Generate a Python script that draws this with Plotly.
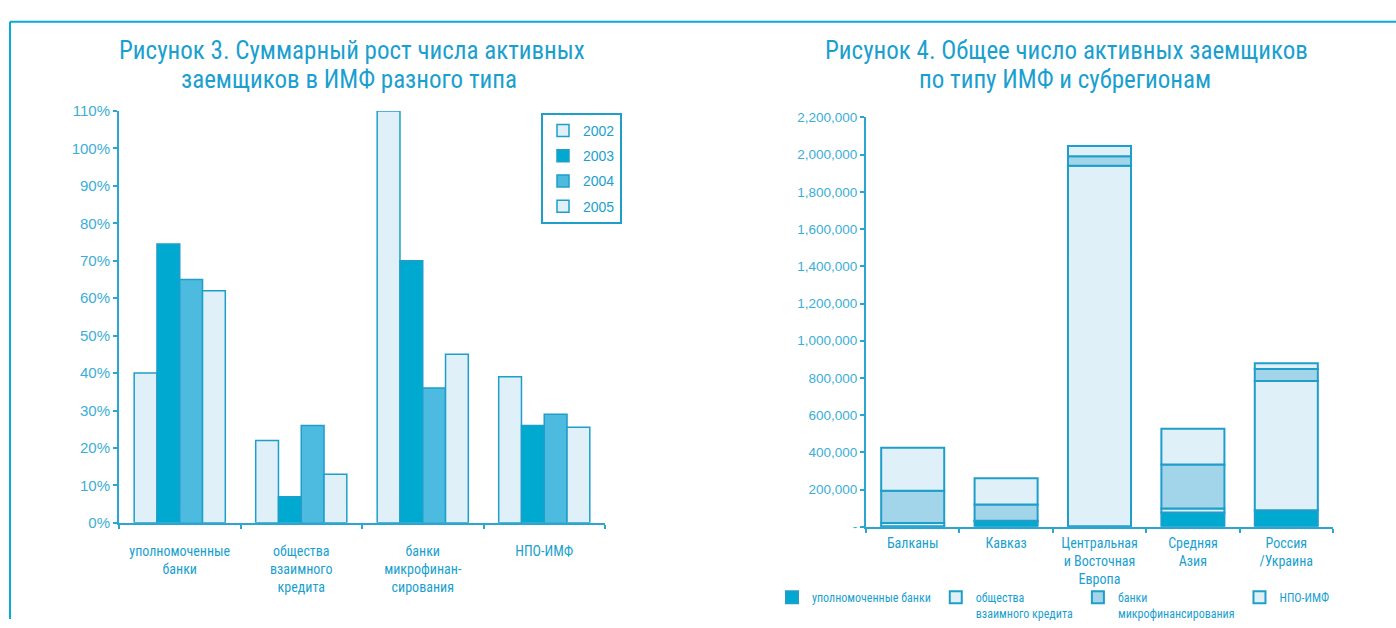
import numpy as np
import plotly.graph_objects as go

# ---------------- data ----------------
# Figure 3: cumulative growth of active borrowers by MFI type
types_left = ["уполномоченные<br>банки", "общества<br>взаимного<br>кредита",
              "банки<br>микрофинан-<br>сирования", "НПО-ИМФ"]
years = ["2002", "2003", "2004", "2005"]
growth_2002 = [0.40, 0.22, 1.10, 0.39]
growth_2003 = [0.745, 0.07, 0.70, 0.26]
growth_2004 = [0.65, 0.26, 0.36, 0.29]
growth_2005 = [0.62, 0.13, 0.45, 0.255]

left_ticks = [0, 0.1, 0.2, 0.3, 0.4, 0.5, 0.6, 0.7, 0.8, 0.9, 1.0, 1.1]
left_ticklabels = ["0%", "10%", "20%", "30%", "40%", "50%", "60%", "70%",
                   "80%", "90%", "100%", "110%"]

# Figure 4: total number of active borrowers by MFI type and subregion
regions = ["Балканы", "Кавказ", "Центральная<br>и Восточная<br>Европа",
           "Средняя<br>Азия", "Россия<br>/Украина"]
mfi_types = ["уполномоченные банки", "общества<br>взаимного кредита",
             "банки<br>микрофинансирования", "НПО-ИМФ"]
auth_banks = [3000, 30000, 2000, 77000, 89000]
credit_unions = [17000, 2000, 1938000, 21000, 694000]
mf_banks = [173000, 88000, 52000, 237000, 65000]
ngo_mfi = [232000, 141000, 55000, 192000, 31000]

right_ticks = [0, 200000, 400000, 600000, 800000, 1000000, 1200000,
               1400000, 1600000, 1800000, 2000000, 2200000]
right_ticklabels = ["-", "200,000", "400,000", "600,000", "800,000",
                    "1,000,000", "1,200,000", "1,400,000", "1,600,000",
                    "1,800,000", "2,000,000", "2,200,000"]

# ---------------- style ----------------
W, H = 1396, 628
FONT = "Liberation Sans Narrow, Arial Narrow, Roboto Condensed, Liberation Sans, sans-serif"
SANS = "Liberation Sans, Arial, sans-serif"
TEAL = "#1a9fcf"
TICK = "#3aaed6"
AXIS = "#2aa6d0"
EDGE = "#1f9ec9"
DARK = "#00a9d0"
MED = "#4dbbe0"
MED_R = "#a3d5ea"
LIGHT = "#dff0f8"

def px_x(x):
    return x / W

def px_y(y):
    return (H - y) / H

fig = go.Figure()

left_series = [growth_2002, growth_2003, growth_2004, growth_2005]
left_colors = [LIGHT, DARK, MED, LIGHT]
for name, vals, col in zip(years, left_series, left_colors):
    fig.add_trace(go.Bar(
        x=types_left, y=vals, name=name, xaxis="x", yaxis="y",
        marker=dict(color=col, line=dict(color=EDGE, width=1.5)),
        legend="legend", legendgroup=name,
    ))

right_series = [auth_banks, credit_unions, mf_banks, ngo_mfi]
right_colors = [DARK, LIGHT, MED_R, LIGHT]
bases = np.cumsum([np.zeros(len(regions))] + [np.array(s) for s in right_series[:-1]], axis=0)
for name, vals, col, base in zip(mfi_types, right_series, right_colors, bases):
    fig.add_trace(go.Bar(
        x=regions, y=vals, base=base, name=name, xaxis="x2", yaxis="y2",
        width=0.675, offset=-0.3375,
        marker=dict(color=col, line=dict(color=EDGE, width=2)),
        legend="legend2",
    ))

axis_common = dict(showline=True, linecolor=AXIS, linewidth=2, showgrid=False,
                   zeroline=False, ticks="outside", tickcolor=AXIS, ticklen=4,
                   tickwidth=1.5)

title_font = dict(size=25, color=TEAL, family=FONT)

fig.update_layout(
    width=W, height=H,
    margin=dict(l=0, r=0, t=0, b=0),
    paper_bgcolor="white", plot_bgcolor="white",
    font=dict(family=FONT, color=TEAL),
    barmode="group", bargap=0.25, bargroupgap=0,
    showlegend=True,
    xaxis=dict(domain=[px_x(119), px_x(605)], anchor="y", type="category",
               tickson="boundaries", tickfont=dict(size=14, color=TEAL),
               ticklabelstandoff=14, **axis_common),
    yaxis=dict(domain=[px_y(529), px_y(105)], anchor="x", range=[0, 1.1],
               tickvals=left_ticks, ticktext=left_ticklabels,
               tickfont=dict(size=15, color=TICK, family=SANS),
               **axis_common),
    xaxis2=dict(domain=[px_x(866), px_x(1333)], anchor="y2", type="category",
                tickson="boundaries", tickfont=dict(size=14, color=TEAL),
                ticklabelstandoff=2, **axis_common),
    yaxis2=dict(domain=[px_y(533), px_y(111.7)], anchor="x2", range=[0, 2200000],
                tickvals=right_ticks, ticktext=right_ticklabels,
                tickfont=dict(size=13.5, color=TICK, family=SANS),
                **axis_common),
    legend=dict(x=px_x(541), y=px_y(107), xanchor="left", yanchor="top",
                bordercolor=EDGE, borderwidth=2, bgcolor="white",
                font=dict(size=14, color=TEAL, family=SANS),
                traceorder="grouped", tracegroupgap=4, itemwidth=30),
    legend2=dict(orientation="h", x=px_x(772), y=px_y(591), xanchor="left",
                 yanchor="top", bgcolor="rgba(0,0,0,0)", borderwidth=0,
                 font=dict(size=12, color=TEAL), itemwidth=30, valign="top"),
    shapes=[
        dict(type="line", xref="paper", yref="paper", x0=px_x(10), x1=1.0,
             y0=px_y(13), y1=px_y(13), line=dict(color="#0aa8d8", width=2)),
        dict(type="line", xref="paper", yref="paper", x0=px_x(10), x1=px_x(10),
             y0=px_y(13), y1=0, line=dict(color="#0aa8d8", width=2)),
    ],
    annotations=[
        dict(text="Рисунок 3. Суммарный рост числа активных", x=px_x(352), y=px_y(43),
             xref="paper", yref="paper", xanchor="center", yanchor="middle",
             showarrow=False, font=title_font),
        dict(text="заемщиков в ИМФ разного типа", x=px_x(349), y=px_y(73),
             xref="paper", yref="paper", xanchor="center", yanchor="middle",
             showarrow=False, font=title_font),
        dict(text="Рисунок 4. Общее число активных заемщиков", x=px_x(1066), y=px_y(43),
             xref="paper", yref="paper", xanchor="center", yanchor="middle",
             showarrow=False, font=title_font),
        dict(text="по типу ИМФ и субрегионам", x=px_x(1065), y=px_y(73),
             xref="paper", yref="paper", xanchor="center", yanchor="middle",
             showarrow=False, font=title_font),
    ],
)

fig.write_html("out.html")
